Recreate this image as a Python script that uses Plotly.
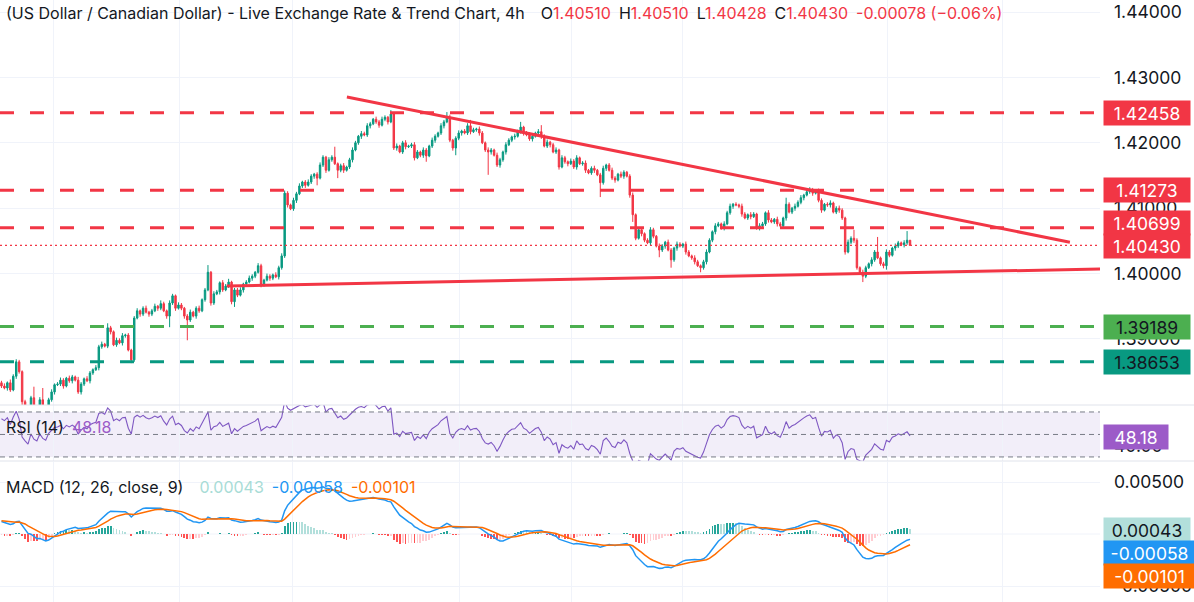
import numpy as np
import plotly.graph_objects as go

# ---------------- data ----------------
first_open = 1.3833
closes = [
    1.3828, 1.3825, 1.3833, 1.3822, 1.3843, 1.3865, 1.3850, 1.3804, 1.3791, 1.3779,
    1.3810, 1.3791, 1.3784, 1.3807, 1.3791, 1.3784, 1.3807, 1.3819, 1.3830, 1.3831,
    1.3837, 1.3828, 1.3840, 1.3836, 1.3842, 1.3837, 1.3819, 1.3831, 1.3839, 1.3836,
    1.3848, 1.3853, 1.3856, 1.3888, 1.3892, 1.3889, 1.3917, 1.3911, 1.3891, 1.3898,
    1.3894, 1.3905, 1.3906, 1.3883, 1.3868, 1.3932, 1.3943, 1.3938, 1.3947, 1.3941,
    1.3938, 1.3943, 1.3950, 1.3947, 1.3954, 1.3943, 1.3935, 1.3955, 1.3966, 1.3947,
    1.3952, 1.3947, 1.3935, 1.3929, 1.3941, 1.3935, 1.3947, 1.3943, 1.3960, 1.3975,
    1.4002, 1.3955, 1.3969, 1.3972, 1.3986, 1.3975, 1.3981, 1.3987, 1.3957, 1.3975,
    1.3967, 1.3975, 1.3984, 1.3987, 1.3993, 1.3996, 1.4002, 1.4012, 1.3983, 1.3990,
    1.3996, 1.3993, 1.3998, 1.3995, 1.4009, 1.4027, 1.4123, 1.4105, 1.4099, 1.4112,
    1.4122, 1.4134, 1.4140, 1.4135, 1.4140, 1.4149, 1.4152, 1.4146, 1.4166, 1.4178,
    1.4158, 1.4174, 1.4178, 1.4168, 1.4158, 1.4165, 1.4158, 1.4163, 1.4174, 1.4189,
    1.4200, 1.4210, 1.4214, 1.4212, 1.4226, 1.4229, 1.4236, 1.4232, 1.4227, 1.4236,
    1.4239, 1.4232, 1.4244, 1.4192, 1.4195, 1.4186, 1.4200, 1.4194, 1.4195, 1.4197,
    1.4177, 1.4186, 1.4181, 1.4189, 1.4180, 1.4195, 1.4204, 1.4210, 1.4215, 1.4226,
    1.4232, 1.4239, 1.4204, 1.4192, 1.4207, 1.4215, 1.4218, 1.4215, 1.4226, 1.4217,
    1.4220, 1.4221, 1.4215, 1.4200, 1.4189, 1.4186, 1.4189, 1.4181, 1.4166, 1.4174,
    1.4186, 1.4197, 1.4204, 1.4209, 1.4210, 1.4217, 1.4224, 1.4215, 1.4212, 1.4206,
    1.4210, 1.4215, 1.4217, 1.4210, 1.4195, 1.4201, 1.4197, 1.4186, 1.4189, 1.4163,
    1.4177, 1.4171, 1.4168, 1.4172, 1.4163, 1.4177, 1.4168, 1.4169, 1.4158, 1.4154,
    1.4161, 1.4158, 1.4151, 1.4139, 1.4161, 1.4166, 1.4158, 1.4146, 1.4143, 1.4152,
    1.4149, 1.4155, 1.4149, 1.4120, 1.4090, 1.4054, 1.4067, 1.4061, 1.4051, 1.4047,
    1.4067, 1.4057, 1.4042, 1.4036, 1.4042, 1.4048, 1.4036, 1.4021, 1.4039, 1.4045,
    1.4042, 1.4045, 1.4033, 1.4027, 1.4024, 1.4018, 1.4012, 1.4009, 1.4018, 1.4033,
    1.4051, 1.4064, 1.4073, 1.4076, 1.4070, 1.4076, 1.4093, 1.4103, 1.4106, 1.4105,
    1.4103, 1.4091, 1.4085, 1.4090, 1.4087, 1.4091, 1.4070, 1.4073, 1.4076, 1.4093,
    1.4082, 1.4079, 1.4083, 1.4076, 1.4073, 1.4085, 1.4106, 1.4094, 1.4100, 1.4103,
    1.4109, 1.4116, 1.4120, 1.4125, 1.4128, 1.4123, 1.4126, 1.4112, 1.4097, 1.4106,
    1.4105, 1.4108, 1.4094, 1.4100, 1.4097, 1.4085, 1.4033, 1.4048, 1.4054, 1.4051,
    1.4009, 1.4002, 1.3996, 1.4009, 1.4015, 1.4021, 1.4033, 1.4024, 1.4015, 1.4012,
    1.4033, 1.4028, 1.4039, 1.4042, 1.4047, 1.4044, 1.4047, 1.4051, 1.4043,
]
# wick lengths above / below the candle body, in pips
wick_up_pips = [
    3, 4, 2, 5, 3, 4, 3, 2, 3, 2,   3, 17, 2, 4, 18, 2, 3, 4, 2, 3,
    4, 3, 2, 4, 3, 2, 5, 3, 2, 4,   3, 2, 4, 3, 4, 2, 7, 3, 2, 4,
    3, 4, 2, 3, 2, 3, 4, 2, 3, 4,   2, 3, 4, 2, 5, 3, 2, 4, 3, 2,
    4, 3, 2, 3, 4, 2, 3, 4, 2, 3,   11, 2, 4, 3, 2, 4, 3, 5, 2, 3,
    3, 4, 2, 3, 4, 3, 2, 4, 3, 2,   4, 3, 2, 4, 3, 4, 4, 3, 2, 4,
    3, 4, 2, 3, 4, 3, 2, 3, 4, 3,   2, 4, 3, 16, 2, 3, 4, 2, 3, 4,
    3, 2, 4, 3, 4, 3, 2, 4, 3, 4,   3, 2, 6, 3, 4, 2, 3, 4, 2, 3,
    4, 3, 2, 4, 3, 2, 4, 3, 2, 4,   3, 8, 4, 2, 3, 4, 2, 3, 4, 9,
    3, 2, 4, 3, 2, 4, 3, 2, 4, 3,   2, 4, 3, 2, 4, 3, 8, 2, 3, 4,
    3, 2, 4, 10, 3, 4, 2, 3, 4, 2,  4, 3, 2, 4, 3, 4, 2, 3, 4, 2,
    3, 4, 2, 3, 4, 2, 3, 4, 3, 2,   4, 3, 2, 3, 4, 2, 3, 4, 2, 3,
    4, 3, 2, 4, 3, 2, 4, 3, 2, 4,   3, 2, 4, 3, 2, 4, 3, 2, 3, 4,
    3, 2, 4, 3, 2, 4, 3, 4, 2, 3,   2, 4, 3, 2, 4, 3, 2, 4, 3, 2,
    4, 3, 2, 4, 3, 2, 10, 3, 2, 4,  3, 4, 2, 3, 4, 3, 2, 4, 3, 2,
    3, 4, 2, 3, 4, 3, 2, 4, 3, 13,  3, 2, 4, 3, 2, 4, 3, 23, 2, 3,
    4, 3, 2, 4, 3, 2, 4, 14, 0,
]
wick_dn_pips = [
    3, 2, 4, 3, 2, 4, 3, 5, 3, 4,   2, 3, 4, 2, 3, 4, 2, 3, 4, 2,
    3, 4, 2, 3, 4, 2, 3, 4, 3, 2,   4, 3, 2, 4, 3, 2, 3, 4, 2, 3,
    2, 4, 3, 2, 5, 3, 2, 4, 3, 2,   4, 3, 2, 4, 3, 2, 4, 17, 3, 4,
    2, 3, 4, 31, 3, 2, 4, 3, 2, 3,  2, 4, 3, 2, 4, 3, 2, 3, 4, 8,
    3, 2, 4, 3, 2, 4, 3, 2, 4, 3,   2, 4, 3, 2, 4, 3, 3, 4, 2, 3,
    4, 2, 3, 4, 2, 3, 4, 11, 2, 3,  4, 2, 3, 2, 12, 3, 4, 2, 3, 4,
    2, 3, 4, 2, 3, 4, 2, 3, 4, 2,   3, 4, 2, 3, 4, 2, 3, 4, 2, 3,
    4, 2, 3, 4, 9, 2, 3, 4, 2, 3,   4, 2, 3, 4, 11, 3, 4, 2, 3, 4,
    2, 3, 4, 2, 3, 35, 4, 2, 3, 4,  3, 4, 2, 3, 4, 2, 3, 4, 2, 3,
    4, 2, 3, 4, 2, 3, 4, 2, 3, 4,   2, 3, 4, 2, 3, 4, 2, 3, 4, 2,
    3, 4, 2, 22, 3, 4, 2, 3, 4, 2,  3, 4, 2, 4, 11, 3, 2, 4, 3, 2,
    4, 3, 2, 11, 3, 4, 2, 12, 3, 4, 2, 3, 4, 2, 3, 4, 2, 7, 3, 4,
    2, 3, 4, 2, 3, 4, 2, 3, 4, 2,   3, 4, 2, 3, 4, 2, 3, 4, 2, 3,
    4, 2, 3, 4, 2, 3, 4, 2, 3, 4,   2, 3, 4, 2, 3, 4, 2, 3, 4, 2,
    3, 4, 2, 3, 4, 3, 4, 2, 3, 4,   3, 4, 9, 3, 2, 4, 3, 2, 3, 4,
    6, 3, 2, 4, 3, 2, 4, 3, 0,
]

red_levels = [1.42458, 1.41273, 1.40699]
green_level = 1.39189
teal_level = 1.38653
last_price = 1.40430

trend_upper_x = [117.1, 362.2]
trend_upper_y = [1.4270, 1.4048]
trend_lower_x = [76.4, 372.4]
trend_lower_y = [1.3981, 1.4007]

price_ticks = [1.39, 1.40, 1.41, 1.42, 1.43, 1.44]
macd_ticks = [-0.005, 0.005]
rsi_levels = [70, 50, 30]

title_text = "(US Dollar / Canadian Dollar) - Live Exchange Rate & Trend Chart, 4h"
ohlc_text = [("O", "1.40510"), ("H", "1.40510"), ("L", "1.40428"), ("C", "1.40430")]
change_text = "-0.00078 (\u22120.06%)"
rsi_value_text = "48.18"
rsi_value = 48.18
macd_hist_text, macd_line_text, macd_signal_text = "0.00043", "-0.00058", "-0.00101"
macd_hist_val, macd_line_val, macd_signal_val = 0.00043, -0.00058, -0.00101

macd_start = 0.0013
signal_start = 0.0013
rsi_gain_start, rsi_loss_start = 0.0006, 0.0003

# ---------------- derived series ----------------
n = len(closes)
assert len(wick_up_pips) == n and len(wick_dn_pips) == n, (n, len(wick_up_pips), len(wick_dn_pips))
pip = 0.0001
opens = [first_open] + closes[:-1]
highs = [max(o, c) + u * pip for o, c, u in zip(opens, closes, wick_up_pips)]
lows = [min(o, c) - d * pip for o, c, d in zip(opens, closes, wick_dn_pips)]
idx = list(range(n))

c = np.array(closes)
diff = np.diff(c, prepend=first_open)
ag, al = rsi_gain_start, rsi_loss_start
rsi = []
for d in diff:
    ag = (ag * 13 + max(d, 0)) / 14
    al = (al * 13 + max(-d, 0)) / 14
    rsi.append(100 - 100 / (1 + ag / al))

e12 = c[0]
e26 = c[0] - macd_start
sig = signal_start
macd, signal = [], []
for v in c:
    e12 += 2 / 13 * (v - e12)
    e26 += 2 / 27 * (v - e26)
    m = e12 - e26
    sig += 2 / 10 * (m - sig)
    macd.append(m)
    signal.append(sig)
hist = [m - s for m, s in zip(macd, signal)]
hcols = []
for i, h in enumerate(hist):
    prev = hist[i - 1] if i else h
    if h >= 0:
        hcols.append("#26A69A" if h >= prev else "#B2DFDB")
    else:
        hcols.append("#FF5252" if h < prev else "#FFCDD2")

# ---------------- figure ----------------
RED = "#F23645"
TEXT = "#131722"
GRID = "#F0F3FA"
FONT = "Inter, Roboto, sans-serif"
W, H = 1194, 602
PLOT_W = 1100
x_range = [-0.5, 372.4]
grid_x = [17.8, 60.5, 98.5, 155.1, 193.4, 231.0, 300.2, 339.5]
AX_FS = 17.5
LBL_FS = 16

fig = go.Figure()
fig.add_trace(go.Candlestick(
    x=idx, open=opens, high=highs, low=lows, close=closes,
    increasing=dict(line=dict(color="#089981", width=1), fillcolor="#089981"),
    decreasing=dict(line=dict(color=RED, width=1), fillcolor=RED),
    whiskerwidth=0, xaxis="x", yaxis="y", hoverinfo="skip"))
fig.add_trace(go.Scatter(x=trend_upper_x, y=trend_upper_y, mode="lines",
                         line=dict(color=RED, width=3), xaxis="x", yaxis="y", hoverinfo="skip"))
fig.add_trace(go.Scatter(x=trend_lower_x, y=trend_lower_y, mode="lines",
                         line=dict(color=RED, width=3), xaxis="x", yaxis="y", hoverinfo="skip"))
fig.add_trace(go.Scatter(x=idx, y=rsi, mode="lines", line=dict(color="#7E57C2", width=1.1),
                         xaxis="x2", yaxis="y2", hoverinfo="skip"))
fig.add_trace(go.Bar(x=idx, y=hist, marker=dict(color=hcols, line=dict(width=0)), width=0.6,
                     xaxis="x3", yaxis="y3", hoverinfo="skip"))
fig.add_trace(go.Scatter(x=idx, y=macd, mode="lines", line=dict(color="#2196F3", width=1.5),
                         xaxis="x3", yaxis="y3", hoverinfo="skip"))
fig.add_trace(go.Scatter(x=idx, y=signal, mode="lines", line=dict(color="#FF6D00", width=1.5),
                         xaxis="x3", yaxis="y3", hoverinfo="skip"))

main_dom = [197 / H, 1]
rsi_dom = [141 / H, 197 / H]
macd_dom = [0, 140 / H]

xa = dict(range=x_range, showticklabels=False, tickvals=grid_x, showgrid=True, gridcolor=GRID,
          zeroline=False, showline=False, ticks="", fixedrange=True)
ya = dict(side="right", showline=False, zeroline=False, ticks="", fixedrange=True,
          tickfont=dict(family=FONT, size=AX_FS, color=TEXT), ticklabelstandoff=13)

fig.update_layout(
    width=W, height=H, margin=dict(l=0, r=W - PLOT_W, t=0, b=0, autoexpand=False),
    paper_bgcolor="white", plot_bgcolor="white", showlegend=False, hovermode=False,
    font=dict(family=FONT, color=TEXT),
    xaxis=dict(xa, domain=[0, 1], anchor="y", rangeslider=dict(visible=False)),
    xaxis2=dict(xa, domain=[0, 1], anchor="y2"),
    xaxis3=dict(xa, domain=[0, 1], anchor="y3"),
    yaxis=dict(ya, domain=main_dom, range=[1.37990, 1.44184], tickvals=price_ticks,
               ticktext=[f"{v:.5f}" for v in price_ticks], showgrid=True, gridcolor=GRID),
    yaxis2=dict(ya, domain=rsi_dom, range=[26.4, 76.2], tickvals=[40], ticktext=["40.00"],
                showgrid=False),
    yaxis3=dict(ya, domain=macd_dom, range=[-0.006538, 0.006923], tickvals=macd_ticks,
                ticktext=[f"{v:.5f}" for v in macd_ticks], showgrid=True, gridcolor=GRID),
    bargap=0,
)

shapes = []
for lv in red_levels:
    shapes.append(dict(type="line", xref="paper", yref="y", x0=0, x1=1, y0=lv, y1=lv,
                       line=dict(color=RED, width=3, dash="14px,16px")))
shapes.append(dict(type="line", xref="paper", yref="y", x0=0, x1=1, y0=green_level, y1=green_level,
                   line=dict(color="#4CAF50", width=3, dash="14px,16px")))
shapes.append(dict(type="line", xref="paper", yref="y", x0=0, x1=1, y0=teal_level, y1=teal_level,
                   line=dict(color="#089981", width=3, dash="14px,16px")))
shapes.append(dict(type="line", xref="paper", yref="y", x0=0, x1=1, y0=last_price, y1=last_price,
                   line=dict(color=RED, width=1.2, dash="2px,3px")))
shapes.append(dict(type="line", xref="paper", yref="y3", x0=0, x1=1, y0=0, y1=0,
                   line=dict(color=GRID, width=1), layer="below"))
shapes.append(dict(type="rect", xref="paper", yref="y2", x0=0, x1=1, y0=30, y1=70,
                   fillcolor="rgba(126,87,194,0.1)", line=dict(width=0), layer="below"))
for lv in rsi_levels:
    shapes.append(dict(type="line", xref="paper", yref="y2", x0=0, x1=1, y0=lv, y1=lv,
                       line=dict(color="#787B86", width=1, dash="5px,4px")))
for yp in [197 / H, 141 / H]:
    shapes.append(dict(type="line", xref="paper", yref="paper", x0=0, x1=W / PLOT_W, y0=yp, y1=yp,
                       line=dict(color="#E0E3EB", width=1)))
fig.update_layout(shapes=shapes)

ann = []


def box(text, y, yref, bg, fg, yshift=0, w=80):
    ann.append(dict(text=text, x=1, xref="paper", y=y, yref=yref, xanchor="left", yanchor="middle",
                    xshift=3, yshift=yshift, showarrow=False, bgcolor=bg, width=w, height=18,
                    borderpad=3, align="center", font=dict(family=FONT, size=AX_FS, color=fg)))


box(f"{red_levels[0]:.5f}", red_levels[0], "y", RED, "white")
box(f"{red_levels[1]:.5f}", red_levels[1], "y", RED, "white")
box(f"{red_levels[2]:.5f}", red_levels[2], "y", RED, "white", yshift=5)
box(f"{last_price:.5f}", last_price, "y", RED, "white", yshift=-1)
box(f"{green_level:.5f}", green_level, "y", "#4CAF50", TEXT)
box(f"{teal_level:.5f}", teal_level, "y", "#089981", TEXT)
box(rsi_value_text, rsi_value, "y2", "#9C5BC8", "white", w=58)
box(macd_hist_text, macd_hist_val, "y3", "#B2DFDB", TEXT)
box(macd_line_text, macd_line_val, "y3", "#2196F3", "white", yshift=-13, w=85)
box(macd_signal_text, macd_signal_val, "y3", "#FF6D00", "white", yshift=-31, w=85)

sp = "\u2002"
hdr = title_text + "\u2002\u2002" + sp.join(
    f"{k}<span style='color:{RED}'>{v}</span>" for k, v in ohlc_text) + sp + \
    f"<span style='color:{RED}'>{change_text}</span>"
ann.append(dict(text=hdr, x=4 / PLOT_W, xref="paper", y=(H - 13) / H, yref="paper",
                xanchor="left", yanchor="middle", showarrow=False,
                font=dict(family=FONT, size=LBL_FS, color=TEXT)))
ann.append(dict(text=f"RSI (14)\u2002<span style='color:#9C5BC8'>{rsi_value_text}</span>",
                x=4 / PLOT_W, xref="paper", y=(H - 427) / H, yref="paper", xanchor="left",
                yanchor="middle", showarrow=False, font=dict(family=FONT, size=LBL_FS, color=TEXT)))
ann.append(dict(text=("MACD (12, 26, close, 9)\u2002\u2002"
                      f"<span style='color:#A8DCD6'>{macd_hist_text}</span>\u2002"
                      f"<span style='color:#2196F3'>{macd_line_text}</span>\u2002"
                      f"<span style='color:#FF6D00'>{macd_signal_text}</span>"),
                x=4 / PLOT_W, xref="paper", y=(H - 487) / H, yref="paper", xanchor="left",
                yanchor="middle", showarrow=False, font=dict(family=FONT, size=LBL_FS, color=TEXT)))
fig.update_layout(annotations=ann)

fig.write_html("out.html", config={"displayModeBar": False, "staticPlot": True},
               post_script="document.body.style.margin='0';")
